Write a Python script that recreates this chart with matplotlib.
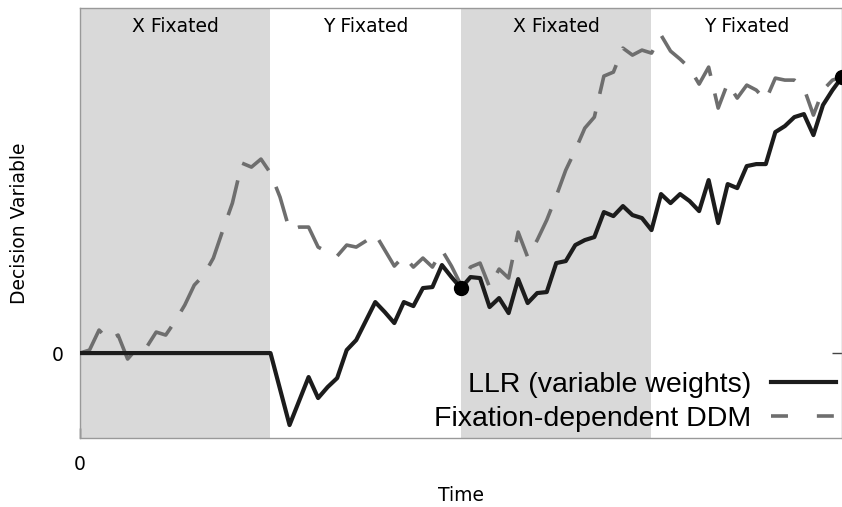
import numpy as np
import matplotlib
matplotlib.use("Agg")
import matplotlib.pyplot as plt
import matplotlib.transforms as mtransforms
from matplotlib.lines import Line2D

# time steps 0..80, four fixation periods of 20 steps each
t = np.arange(81)

llr = [0.0] * 21 + [
    -3.6, -7.2, -4.8, -2.4, -4.5, -3.4, -2.5, 0.3, 1.3, 3.2,
    5.1, 4.1, 3.0, 5.1, 4.7, 6.5, 6.6, 8.8, 7.6, 6.5,
    7.6, 7.5, 4.6, 5.5, 4.0, 7.4, 5.0, 6.0, 6.1, 9.0,
    9.2, 10.8, 11.3, 11.6, 14.1, 13.7, 14.7, 13.8, 13.5, 12.3,
    15.9, 15.0, 15.9, 15.2, 14.2, 17.3, 13.0, 16.9, 16.5, 18.7,
    18.9, 18.9, 22.1, 22.7, 23.6, 23.9, 21.8, 24.8, 26.3, 27.6,
]

ddm = [
    0.0, 0.3, 2.3, 1.3, 1.8, -0.6, 0.5, 0.6, 2.1, 1.8,
    3.2, 4.8, 6.8, 7.8, 9.5, 12.3, 15.0, 19.0, 18.6, 19.4,
    18.0, 15.6, 12.3, 12.6, 12.6, 10.6, 10.1, 9.7, 10.8, 10.6,
    11.2, 11.9, 10.3, 8.7, 9.7, 8.6, 9.5, 8.6, 10.3, 8.7,
    6.8, 8.6, 9.0, 6.6, 8.4, 7.5, 12.1, 9.6, 11.3, 13.3,
    15.7, 18.3, 20.3, 22.5, 23.6, 27.7, 28.1, 30.5, 29.8, 30.3,
    30.0, 31.8, 30.2, 29.4, 28.5, 26.9, 28.6, 24.5, 27.0, 25.5,
    26.8, 26.3, 25.3, 27.5, 27.3, 27.3, 26.5, 23.8, 26.3, 27.3,
    27.6,
]

periods = [(0, 20), (20, 40), (40, 60), (60, 80)]
period_labels = ["X Fixated", "Y Fixated", "X Fixated", "Y Fixated"]
shaded = [True, False, True, False]
dot_times = [40, 80]

fig = plt.figure(figsize=(8.42, 5.07), dpi=100)
ax = fig.add_axes([0.095, 0.136, 0.905, 0.848])

trans = mtransforms.blended_transform_factory(ax.transData, ax.transAxes)
for (a, b), lab, sh in zip(periods, period_labels, shaded):
    if sh:
        ax.axvspan(a, b, color="#d9d9d9", lw=0, zorder=0)
    ax.text((a + b) / 2, 0.958, lab, transform=trans, ha="center", va="center",
            fontsize=13.5, family="DejaVu Sans")

gray = "#6e6e6e"
ax.plot(t, ddm, color=gray, lw=2.6, dashes=(10, 5), solid_capstyle="butt", zorder=2)
ax.plot(t, llr, color="#1c1c1c", lw=3.0, zorder=3)
ax.plot(dot_times, [llr[i] for i in dot_times], "o", color="black", ms=10,
        zorder=4, clip_on=False)

ax.set_xlim(0, 80)
ax.set_ylim(-8.5, 34.5)
ax.set_xticks([0])
ax.set_yticks([0])
ax.tick_params(direction="in", length=7, width=1, color="#444444",
               labelsize=13.5, pad=12, right=True)
for s in ax.spines.values():
    s.set_color("#999999")
    s.set_linewidth(1.0)

ax.set_xlabel("Time", fontsize=13.5, labelpad=9)
ax.set_ylabel("Decision Variable", fontsize=13.5, labelpad=16)

handles = [
    Line2D([], [], color="#1c1c1c", lw=3.0),
    Line2D([], [], color=gray, lw=2.6, dashes=(4.7, 8)),
]
ax.legend(handles, ["LLR (variable weights)", "Fixation-dependent DDM"],
          loc="lower right", frameon=False, markerfirst=False,
          prop={"family": "Liberation Sans", "size": 20.5}, handlelength=2.3,
          handletextpad=0.7, labelspacing=0.3, borderaxespad=0.0,
          borderpad=0.2)

fig.savefig("out.png", dpi=100)
